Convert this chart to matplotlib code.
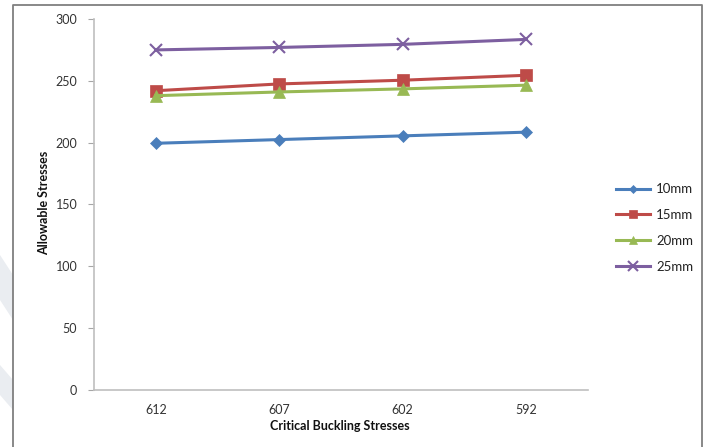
import matplotlib
matplotlib.use("Agg")
import matplotlib.pyplot as plt
from matplotlib.patches import Polygon
from matplotlib.lines import Line2D

categories = ["612", "607", "602", "592"]
series_names = ["10mm", "15mm", "20mm", "25mm"]
s10 = [199.5, 202.5, 205.5, 208.5]
s15 = [242, 247.5, 250.5, 254.5]
s20 = [238, 241, 243.5, 246.5]
s25 = [275, 277, 279.5, 283.5]
y_ticks = [0, 50, 100, 150, 200, 250, 300]

colors = ["#4a7ebb", "#be4b48", "#98b954", "#7d5fa0"]
markers = ["D", "s", "^", "x"]
msizes = [6, 8, 8, 9]

W, H = 705, 447
fig = plt.figure(figsize=(W / 100, H / 100), dpi=100)
plt.rcParams["font.family"] = ["Lato", "DejaVu Sans"]

# chart-area frame (open at the bottom)
fig.add_artist(Line2D([13 / W, 13 / W, 702 / W, 702 / W],
                      [0, 1 - 5 / H, 1 - 5 / H, 0],
                      transform=fig.transFigure, color="#7f7f7f", lw=1.3))

# faint decorative shapes at the left edge
for pts in ([(0, 255), (13, 275), (13, 320), (0, 300)],
            [(0, 365), (13, 380), (13, 410), (0, 395)]):
    fig.add_artist(Polygon([(x / W, 1 - y / H) for x, y in pts],
                           closed=True, transform=fig.transFigure,
                           color="#eaedf1", lw=0))

ax = fig.add_axes([94 / W, 1 - 390 / H, (588 - 94) / W, (390 - 19) / H])
x = list(range(len(categories)))
for vals, name, c, m, ms in zip([s10, s15, s20, s25], series_names, colors, markers, msizes):
    ax.plot(x, vals, color=c, lw=2.2, marker=m, markersize=ms, label=name,
            markeredgewidth=1.5 if m == "x" else 0.5, markeredgecolor=c)

ax.set_xlim(-0.5, len(categories) - 0.5)
ax.set_ylim(0, 300)
ax.set_xticks(x)
ax.set_xticklabels(categories)
ax.set_yticks(y_ticks)
ax.tick_params(axis="x", length=0, pad=10, labelsize=9, colors="#333333")
ax.tick_params(axis="y", length=4, width=0.8, color="#a6a6a6", pad=8,
               labelsize=9, labelcolor="#333333")
for side in ("top", "right"):
    ax.spines[side].set_visible(False)
for side in ("left", "bottom"):
    ax.spines[side].set_color("#bfbfbf")
    ax.spines[side].set_linewidth(1.2)

fig.text(340 / W, 1 - 426 / H, "Critical Buckling Stresses", ha="center",
         va="center", fontsize=9, fontweight="bold", color="#111111")
fig.text(44 / W, 1 - 203 / H, "Allowable Stresses", ha="center", va="center",
         rotation=90, fontsize=9, fontweight="bold", color="#111111")

leg = ax.legend(loc="center left", bbox_to_anchor=(604 / W, 1 - 228 / H),
                bbox_transform=fig.transFigure, frameon=False, fontsize=9.5,
                handlelength=2.6, labelspacing=1.05, handletextpad=0.45,
                markerscale=0.75)
for t in leg.get_texts():
    t.set_color("#222222")

fig.savefig("out.png", dpi=100)
